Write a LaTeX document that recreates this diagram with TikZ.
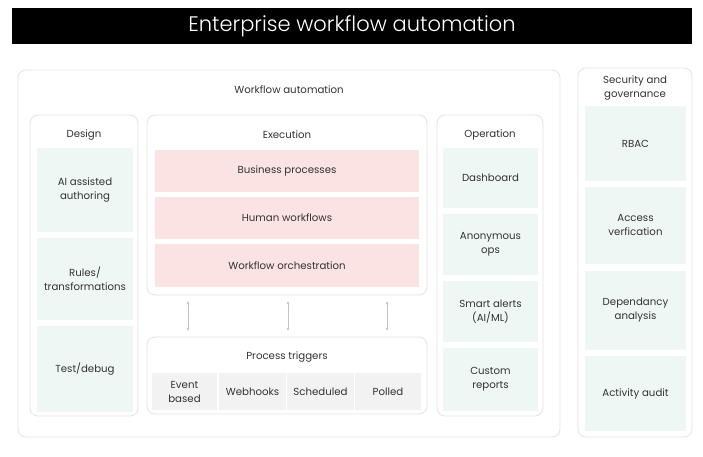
\documentclass[tikz,border=0pt]{standalone}
\usepackage{fontspec}
\setmainfont{Poppins}
\newfontfamily\titlefont{Poppins}[UprightFont=* Light]
\usetikzlibrary{arrows.meta}
\definecolor{txt}{HTML}{333333}
\definecolor{mint}{HTML}{EFF7F5}
\definecolor{pinkc}{HTML}{FBE3E3}
\definecolor{cellg}{HTML}{F2F2F2}
\definecolor{edgeg}{HTML}{E4E4E4}
\definecolor{arrg}{HTML}{C4C4C4}
\tikzset{
  panel/.style={draw=edgeg, line width=0.8pt, fill=white, rounded corners=8pt, inner sep=0pt},
  item/.style={fill=#1, draw=none, inner sep=1pt, align=center, text=txt, font=\fontsize{10.2}{14}\selectfont},
  lbl/.style={text=txt, align=center, font=\fontsize{10.2}{14}\selectfont, inner sep=0pt},
  link/.style={draw=arrg, line width=0.6pt, {Stealth[length=3pt,width=3pt]}-{Stealth[length=3pt,width=3pt]}}
}
\begin{document}
\begin{tikzpicture}[x=1pt,y=-1pt]
\useasboundingbox[fill=white] (0,0) rectangle (703,457);
% title
\node[fill=black, minimum width=680, minimum height=36, inner sep=0pt, text=white,
      font=\titlefont\fontsize{21}{24}\selectfont] (title) at (352,26) {Enterprise workflow automation};
% main panels
\node[panel, minimum width=542, minimum height=367] (wfa) at (289,253.5) {};
\node[lbl] (wfalbl) at (289,90) {Workflow automation};
\node[panel, minimum width=114, minimum height=369] (sec) at (635,252.5) {};
\node[lbl] (seclbl) at (635,88) {Security and\\governance};
% design column
\node[panel, minimum width=108, minimum height=301] (design) at (84,265.5) {};
\node[lbl] (designlbl) at (84,135) {Design};
\node[item=mint, minimum width=96, minimum height=84] (ai) at (85,190) {AI assisted\\authoring};
\node[item=mint, minimum width=96, minimum height=82] (rules) at (85,279) {Rules/\\transformations};
\node[item=mint, minimum width=96, minimum height=86] (test) at (85,369) {Test/debug};
% execution
\node[panel, minimum width=280, minimum height=180] (exec) at (287,205) {};
\node[lbl] (execlbl) at (287,135) {Execution};
\node[item=pinkc, minimum width=264, minimum height=42] (bp) at (287,171) {Business processes};
\node[item=pinkc, minimum width=264, minimum height=42] (hw) at (287,218) {Human workflows};
\node[item=pinkc, minimum width=264, minimum height=43] (wo) at (287,265.5) {Workflow orchestration};
% triggers
\node[panel, minimum width=280, minimum height=77] (trig) at (287,375.5) {};
\node[lbl] (triglbl) at (287,357) {Process triggers};
\node[item=cellg, minimum width=65, minimum height=37] (eb) at (184.5,391.5) {Event\\based};
\node[item=cellg, minimum width=67, minimum height=37] (wh) at (252.5,391.5) {Webhooks};
\node[item=cellg, minimum width=67, minimum height=37] (sc) at (320.5,391.5) {Scheduled};
\node[item=cellg, minimum width=66, minimum height=37] (po) at (388,391.5) {Polled};
% arrows
\coordinate (a1) at (188,0);
\coordinate (a2) at (288,0);
\coordinate (a3) at (387,0);
\draw[link] ([yshift=-6]exec.south -| a1) -- ([yshift=6]trig.north -| a1);
\draw[link] ([yshift=-6]exec.south -| a2) -- ([yshift=6]trig.north -| a2);
\draw[link] ([yshift=-6]exec.south -| a3) -- ([yshift=6]trig.north -| a3);
% operation
\node[panel, minimum width=106, minimum height=301] (oper) at (490,265.5) {};
\node[lbl] (operlbl) at (490,135) {Operation};
\node[item=mint, minimum width=95, minimum height=60] (dash) at (490.5,178) {Dashboard};
\node[item=mint, minimum width=95, minimum height=61] (anon) at (490.5,244.5) {Anonymous\\ops};
\node[item=mint, minimum width=95, minimum height=61] (smart) at (490.5,311.5) {Smart alerts\\(AI/ML)};
\node[item=mint, minimum width=95, minimum height=63] (custom) at (490.5,379.5) {Custom\\reports};
% security items
\node[item=mint, minimum width=101, minimum height=75] (rbac) at (635.5,143.5) {RBAC};
\node[item=mint, minimum width=101, minimum height=77] (access) at (635.5,225.5) {Access\\verfication};
\node[item=mint, minimum width=101, minimum height=79] (dep) at (635.5,310.5) {Dependancy\\analysis};
\node[item=mint, minimum width=101, minimum height=75] (audit) at (635.5,393.5) {Activity audit};
\end{tikzpicture}
\end{document}
